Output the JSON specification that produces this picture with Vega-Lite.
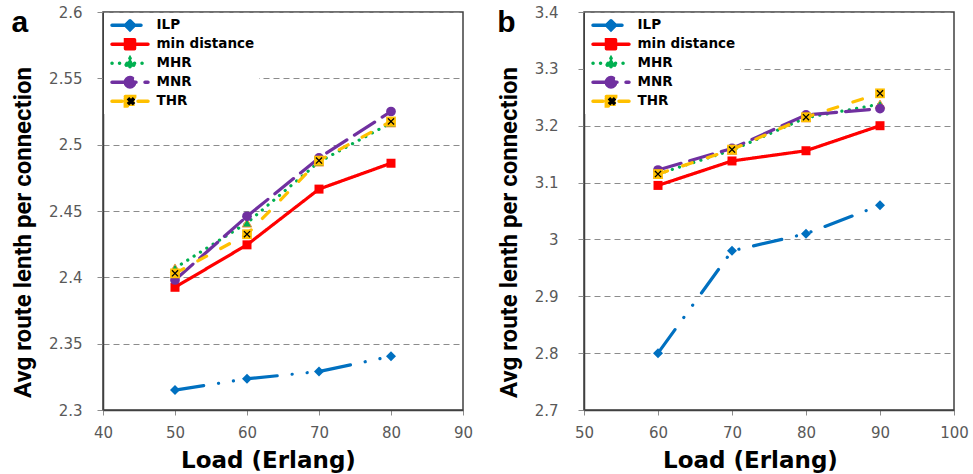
{
  "$schema": "https://vega.github.io/schema/vega-lite/v6.json",
  "background": "white",
  "padding": {"left": 10, "top": 4, "right": 0, "bottom": 0},
  "config": {
    "font": "DejaVu Sans",
    "view": {"stroke": "#404040", "strokeWidth": 1.5},
    "axis": {
      "labelFont": "DejaVu Sans",
      "labelFontSize": 15,
      "labelColor": "#595959",
      "labelFlush": false,
      "labelOverlap": false,
      "tickColor": "#8c8c8c",
      "tickWidth": 1,
      "domainColor": "#404040",
      "domainWidth": 1.5,
      "gridColor": "#8c8c8c",
      "gridDash": [6, 4],
      "gridWidth": 1,
      "titleColor": "black"
    },
    "axisX": {
      "tickSize": 5,
      "labelPadding": 10,
      "titleFont": "DejaVu Sans",
      "titleFontWeight": "bold",
      "titleFontSize": 23,
      "titlePadding": 9,
      "grid": false
    },
    "axisY": {
      "tickSize": 6,
      "titleFont": "Roboto",
      "titleFontWeight": "bold",
      "titleFontSize": 24,
      "titlePadding": 13,
      "titleY": 220,
      "grid": true
    },
    "legend": {
      "labelFont": "DejaVu Sans",
      "labelFontSize": 13.5,
      "labelFontWeight": "bold",
      "labelColor": "black",
      "clipHeight": 16.5,
      "rowPadding": 2,
      "padding": 4,
      "labelOffset": 6.5,
      "symbolSize": 1296,
      "symbolStrokeWidth": 3.5
    },
    "title": {"font": "Liberation Sans", "fontSize": 30, "fontWeight": "bold", "color": "black", "anchor": "start", "frame": "bounds", "offset": -33}
  },
  "datasets": {
    "loadA": [
      {"series": "ILP", "load": 50, "length": 2.315},
      {"series": "ILP", "load": 60, "length": 2.3235},
      {"series": "ILP", "load": 70, "length": 2.329},
      {"series": "ILP", "load": 80, "length": 2.3405},
      {"series": "min distance", "load": 50, "length": 2.3925},
      {"series": "min distance", "load": 60, "length": 2.4245},
      {"series": "min distance", "load": 70, "length": 2.4665},
      {"series": "min distance", "load": 80, "length": 2.486},
      {"series": "MHR", "load": 50, "length": 2.407},
      {"series": "MHR", "load": 60, "length": 2.441},
      {"series": "MHR", "load": 70, "length": 2.487},
      {"series": "MHR", "load": 80, "length": 2.5165},
      {"series": "MNR", "load": 50, "length": 2.398},
      {"series": "MNR", "load": 60, "length": 2.446},
      {"series": "MNR", "load": 70, "length": 2.49},
      {"series": "MNR", "load": 80, "length": 2.525},
      {"series": "THR", "load": 50, "length": 2.403},
      {"series": "THR", "load": 60, "length": 2.4325},
      {"series": "THR", "load": 70, "length": 2.488},
      {"series": "THR", "load": 80, "length": 2.5175}
    ],
    "loadB": [
      {"series": "ILP", "load": 60, "length": 2.8},
      {"series": "ILP", "load": 70, "length": 2.98},
      {"series": "ILP", "load": 80, "length": 3.01},
      {"series": "ILP", "load": 90, "length": 3.06},
      {"series": "min distance", "load": 60, "length": 3.095},
      {"series": "min distance", "load": 70, "length": 3.138},
      {"series": "min distance", "load": 80, "length": 3.156},
      {"series": "min distance", "load": 90, "length": 3.2},
      {"series": "MHR", "load": 60, "length": 3.115},
      {"series": "MHR", "load": 70, "length": 3.157},
      {"series": "MHR", "load": 80, "length": 3.214},
      {"series": "MHR", "load": 90, "length": 3.238},
      {"series": "MNR", "load": 60, "length": 3.122},
      {"series": "MNR", "load": 70, "length": 3.16},
      {"series": "MNR", "load": 80, "length": 3.219},
      {"series": "MNR", "load": 90, "length": 3.23},
      {"series": "THR", "load": 60, "length": 3.115},
      {"series": "THR", "load": 70, "length": 3.158},
      {"series": "THR", "load": 80, "length": 3.215},
      {"series": "THR", "load": 90, "length": 3.257}
    ]
  },
  "spacing": 121,
  "bounds": "flush",
  "resolve": {
    "scale": {"x": "independent", "y": "independent", "color": "independent", "strokeDash": "independent", "shape": "independent"},
    "legend": {"color": "independent", "shape": "independent"}
  },
  "hconcat": [
    {
      "width": 360,
      "height": 398,
      "title": {"text": "a"},
      "data": {"name": "loadA"},
      "encoding": {
        "x": {"field": "load", "type": "quantitative", "scale": {"domain": [40, 90], "nice": false},
              "axis": {"values": [40, 50, 60, 70, 80, 90], "title": "Load (Erlang)", "titleX": 165}},
        "y": {"field": "length", "type": "quantitative", "scale": {"domain": [2.3, 2.6], "nice": false, "zero": false},
              "axis": {"values": [2.3, 2.35, 2.4, 2.45, 2.5, 2.55, 2.6], "format": ".3~g", "labelPadding": 15, "title": "Avg route lenth per connection"}}
      },
      "layer": [
        {
          "mark": {"type": "line", "strokeWidth": 3.2, "strokeCap": "round", "strokeJoin": "round"},
          "encoding": {
            "color": {"field": "series", "type": "nominal",
              "scale": {"domain": ["ILP", "min distance", "MHR", "MNR", "THR"], "range": ["#0070C0", "#FF0000", "#00B050", "#7030A0", "#FFC000"]},
              "legend": {"title": null, "orient": "none", "legendX": 1, "legendY": 1, "fillColor": "white", "symbolOffset": 2, "zindex": 1,
                "encode": {"symbols": {"update": {
                  "shape": {"signal": "['M-1,0H1M0,-0.25L0.25,0L0,0.25L-0.25,0Z','M-1,0H1M-0.25,-0.25H0.25V0.25H-0.25Z','M-1,0H1M0,-0.28L0.28,0.2L-0.28,0.2Z','M-1,0H1M0.26,0A0.26,0.26 0 1,1 -0.26,0A0.26,0.26 0 1,1 0.26,0Z','M-1,0H1M-0.26,-0.26H0.26V0.26H-0.26Z'][indexof(['ILP','min distance','MHR','MNR','THR'], datum.value)]"},
                  "fill": {"signal": "['#0070C0','#FF0000','#00B050','#7030A0','#FFC000'][indexof(['ILP','min distance','MHR','MNR','THR'], datum.value)]"},
                  "stroke": {"signal": "['#0070C0','#FF0000','#00B050','#7030A0','#FFC000'][indexof(['ILP','min distance','MHR','MNR','THR'], datum.value)]"},
                  "strokeDash": {"signal": "[[1,0],[1,0],[0.1,7.4],[1,0],[12,8]][indexof(['ILP','min distance','MHR','MNR','THR'], datum.value)]"},
                  "strokeWidth": {"value": 3.5},
                  "strokeCap": {"value": "round"},
                  "opacity": {"value": 1}
                }}}}
            },
            "strokeDash": {"field": "series", "type": "nominal",
              "scale": {"domain": ["ILP", "min distance", "MHR", "MNR", "THR"], "range": [[29, 15, 0.1, 15, 0.1, 15], [1, 0], [0.1, 7.4], [24, 9], [10, 16]]},
              "legend": null}
          }
        },
        {"transform": [{"filter": {"field": "series", "equal": "ILP"}}], "mark": {"type": "point", "shape": "diamond", "filled": true, "size": 100, "color": "#0070C0", "opacity": 1}},
        {"transform": [{"filter": {"field": "series", "equal": "min distance"}}], "mark": {"type": "point", "shape": "square", "filled": true, "size": 81, "color": "#FF0000", "opacity": 1}},
        {"transform": [{"filter": {"field": "series", "equal": "MHR"}}], "mark": {"type": "point", "shape": "triangle-up", "filled": true, "size": 90, "fill": "#00B050", "stroke": "#F79646", "strokeWidth": 1, "opacity": 1}},
        {"transform": [{"filter": {"field": "series", "equal": "MNR"}}], "mark": {"type": "point", "shape": "circle", "filled": true, "size": 95, "color": "#7030A0", "opacity": 1}},
        {"transform": [{"filter": {"field": "series", "equal": "THR"}}], "mark": {"type": "point", "shape": "square", "filled": true, "size": 95, "color": "#FFC000", "opacity": 1}},
        {
          "transform": [{"filter": {"field": "series", "equal": "THR"}}],
          "mark": {"type": "point", "filled": false, "stroke": "black", "strokeWidth": 1.3, "size": 1296, "opacity": 1},
          "encoding": {
            "shape": {"field": "series", "type": "nominal",
              "scale": {"domain": ["ILP", "min distance", "MHR", "MNR", "THR"], "range": ["M0,0", "M0,0", "M0,0", "M0,0", "M-0.17,-0.17L0.17,0.17M-0.17,0.17L0.17,-0.17"]},
              "legend": {"title": null, "orient": "top-left", "offset": 1, "symbolOffset": 3, "labelOpacity": 0, "zindex": 2,
                "encode": {"symbols": {"update": {
                  "size": {"value": 1296},
                  "stroke": {"value": "black"},
                  "fill": {"value": "transparent"},
                  "strokeWidth": {"value": 1.3},
                  "opacity": {"value": 1}
                }}}}
            }
          }
        }
      ]
    },
    {
      "width": 370,
      "height": 398,
      "title": {"text": "b"},
      "data": {"name": "loadB"},
      "encoding": {
        "x": {"field": "load", "type": "quantitative", "scale": {"domain": [50, 100], "nice": false},
              "axis": {"values": [50, 60, 70, 80, 90, 100], "title": "Load (Erlang)", "titleX": 166}},
        "y": {"field": "length", "type": "quantitative", "scale": {"domain": [2.7, 3.4], "nice": false, "zero": false},
              "axis": {"values": [2.7, 2.8, 2.9, 3, 3.1, 3.2, 3.3, 3.4], "format": ".3~g", "labelPadding": 20, "title": "Avg route lenth per connection"}}
      },
      "layer": [
        {
          "mark": {"type": "line", "strokeWidth": 3.2, "strokeCap": "round", "strokeJoin": "round"},
          "encoding": {
            "color": {"field": "series", "type": "nominal",
              "scale": {"domain": ["ILP", "min distance", "MHR", "MNR", "THR"], "range": ["#0070C0", "#FF0000", "#00B050", "#7030A0", "#FFC000"]},
              "legend": {"title": null, "orient": "none", "legendX": 1, "legendY": 1, "fillColor": "white", "symbolOffset": 2, "zindex": 1,
                "encode": {"symbols": {"update": {
                  "shape": {"signal": "['M-1,0H1M0,-0.25L0.25,0L0,0.25L-0.25,0Z','M-1,0H1M-0.25,-0.25H0.25V0.25H-0.25Z','M-1,0H1M0,-0.28L0.28,0.2L-0.28,0.2Z','M-1,0H1M0.26,0A0.26,0.26 0 1,1 -0.26,0A0.26,0.26 0 1,1 0.26,0Z','M-1,0H1M-0.26,-0.26H0.26V0.26H-0.26Z'][indexof(['ILP','min distance','MHR','MNR','THR'], datum.value)]"},
                  "fill": {"signal": "['#0070C0','#FF0000','#00B050','#7030A0','#FFC000'][indexof(['ILP','min distance','MHR','MNR','THR'], datum.value)]"},
                  "stroke": {"signal": "['#0070C0','#FF0000','#00B050','#7030A0','#FFC000'][indexof(['ILP','min distance','MHR','MNR','THR'], datum.value)]"},
                  "strokeDash": {"signal": "[[1,0],[1,0],[0.1,7.4],[1,0],[12,8]][indexof(['ILP','min distance','MHR','MNR','THR'], datum.value)]"},
                  "strokeWidth": {"value": 3.5},
                  "strokeCap": {"value": "round"},
                  "opacity": {"value": 1}
                }}}}
            },
            "strokeDash": {"field": "series", "type": "nominal",
              "scale": {"domain": ["ILP", "min distance", "MHR", "MNR", "THR"], "range": [[29, 15, 0.1, 15, 0.1, 15], [1, 0], [0.1, 7.4], [24, 9], [10, 16]]},
              "legend": null}
          }
        },
        {"transform": [{"filter": {"field": "series", "equal": "ILP"}}], "mark": {"type": "point", "shape": "diamond", "filled": true, "size": 100, "color": "#0070C0", "opacity": 1}},
        {"transform": [{"filter": {"field": "series", "equal": "min distance"}}], "mark": {"type": "point", "shape": "square", "filled": true, "size": 81, "color": "#FF0000", "opacity": 1}},
        {"transform": [{"filter": {"field": "series", "equal": "MHR"}}], "mark": {"type": "point", "shape": "triangle-up", "filled": true, "size": 90, "fill": "#00B050", "stroke": "#F79646", "strokeWidth": 1, "opacity": 1}},
        {"transform": [{"filter": {"field": "series", "equal": "MNR"}}], "mark": {"type": "point", "shape": "circle", "filled": true, "size": 95, "color": "#7030A0", "opacity": 1}},
        {"transform": [{"filter": {"field": "series", "equal": "THR"}}], "mark": {"type": "point", "shape": "square", "filled": true, "size": 95, "color": "#FFC000", "opacity": 1}},
        {
          "transform": [{"filter": {"field": "series", "equal": "THR"}}],
          "mark": {"type": "point", "filled": false, "stroke": "black", "strokeWidth": 1.3, "size": 1296, "opacity": 1},
          "encoding": {
            "shape": {"field": "series", "type": "nominal",
              "scale": {"domain": ["ILP", "min distance", "MHR", "MNR", "THR"], "range": ["M0,0", "M0,0", "M0,0", "M0,0", "M-0.17,-0.17L0.17,0.17M-0.17,0.17L0.17,-0.17"]},
              "legend": {"title": null, "orient": "top-left", "offset": 1, "symbolOffset": 3, "labelOpacity": 0, "zindex": 2,
                "encode": {"symbols": {"update": {
                  "size": {"value": 1296},
                  "stroke": {"value": "black"},
                  "fill": {"value": "transparent"},
                  "strokeWidth": {"value": 1.3},
                  "opacity": {"value": 1}
                }}}}
            }
          }
        }
      ]
    }
  ]
}
